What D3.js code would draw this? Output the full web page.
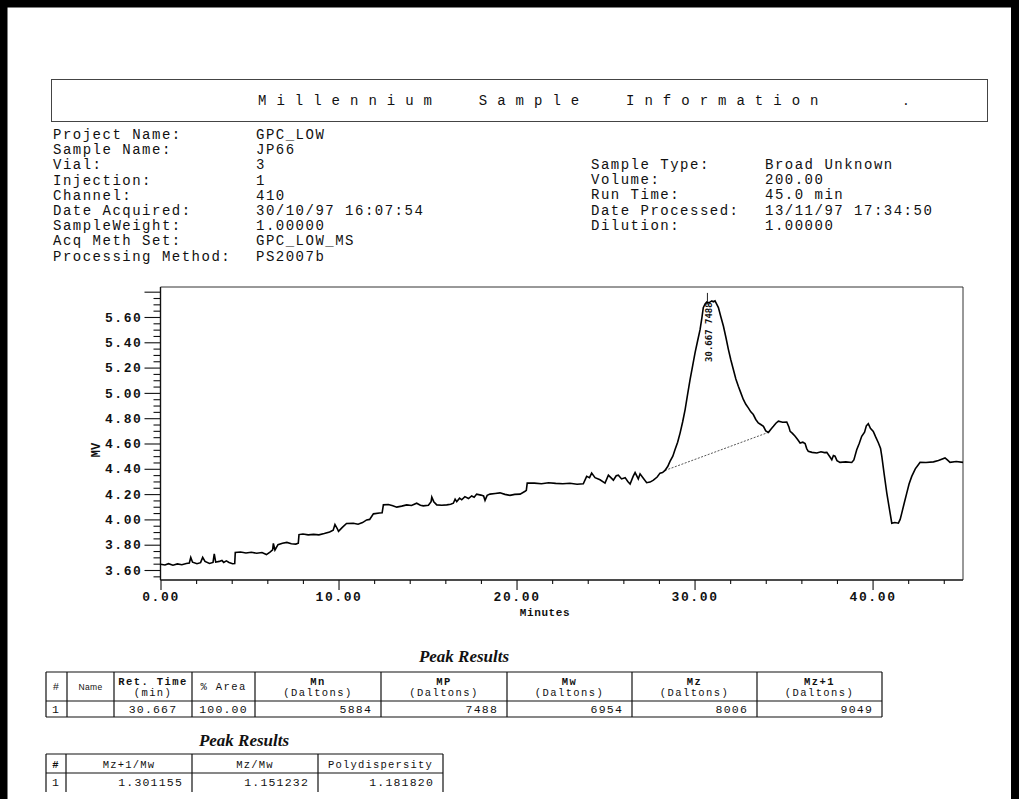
<!DOCTYPE html>
<html>
<head>
<meta charset="utf-8">
<script src="https://cdn.jsdelivr.net/npm/d3@7"></script>
<style>
  html, body { margin: 0; padding: 0; background: #fff; }
  svg { display: block; }
  text { fill: #111; }
</style>
</head>
<body>
<svg id="page" width="1019" height="799"></svg>
<script>
// ---- Sample information ----
const infoLeftLabels = ["Project Name:", "Sample Name:", "Vial:", "Injection:", "Channel:",
  "Date Acquired:", "SampleWeight:", "Acq Meth Set:", "Processing Method:"];
const infoLeftValues = ["GPC_LOW", "JP66", "3", "1", "410",
  "30/10/97 16:07:54", "1.00000", "GPC_LOW_MS", "PS2007b"];
const infoRightLabels = ["Sample Type:", "Volume:", "Run Time:", "Date Processed:", "Dilution:"];
const infoRightValues = ["Broad Unknown", "200.00", "45.0 min", "13/11/97 17:34:50", "1.00000"];

// ---- Chromatogram trace (minutes, MV) ----
const minutes = [
  0.00, 0.25, 0.45, 0.70, 0.95, 1.20, 1.45, 1.62, 1.70, 1.80, 2.05, 2.25, 2.37, 2.50, 2.75, 2.95,
  3.02, 3.10, 3.30, 3.45, 3.55, 3.70, 3.85, 4.05, 4.17, 4.20, 4.50, 4.80, 5.10, 5.40, 5.70, 5.95,
  6.15, 6.30, 6.34, 6.43, 6.60, 6.85, 7.10, 7.35, 7.60, 7.74, 7.78, 8.00, 8.30, 8.60, 8.90, 9.20,
  9.50, 9.70, 9.80, 9.92, 10.00, 10.20, 10.45, 10.83, 11.10, 11.35, 11.58, 11.75, 11.96, 12.30,
  12.45, 12.52, 12.80, 13.05, 13.27, 13.55, 13.83, 14.10, 14.39, 14.60, 14.76, 15.05, 15.20, 15.24,
  15.35, 15.52, 15.80, 16.08, 16.30, 16.45, 16.55, 16.64, 16.80, 16.92, 17.10, 17.30, 17.48, 17.62,
  17.76, 18.00, 18.15, 18.23, 18.35, 18.51, 18.80, 19.07, 19.35, 19.63, 19.90, 20.20, 20.48, 20.55,
  20.60, 21.00, 21.40, 21.80, 22.20, 22.60, 23.00, 23.40, 23.75, 23.94, 24.10, 24.22, 24.41, 24.69,
  24.97, 25.16, 25.30, 25.44, 25.60, 25.72, 25.90, 26.10, 26.25, 26.38, 26.55, 26.66, 26.84, 26.94,
  27.10, 27.31, 27.50, 27.69, 27.90, 28.06, 28.20, 28.34, 28.50, 28.62, 28.78, 28.90, 29.05, 29.19,
  29.33, 29.47, 29.60, 29.75, 29.90, 30.03, 30.17, 30.31, 30.42, 30.49, 30.60, 30.69, 30.80, 30.97,
  31.05, 31.15, 31.25, 31.34, 31.48, 31.62, 31.76, 31.90, 32.04, 32.18, 32.32, 32.46, 32.60, 32.74,
  32.88, 33.02, 33.16, 33.30, 33.44, 33.58, 33.72, 33.87, 34.00, 34.15, 34.30, 34.43, 34.57, 34.71,
  34.95, 35.18, 35.30, 35.37, 35.50, 35.65, 35.80, 35.93, 36.08, 36.21, 36.30, 36.39, 36.60, 36.87,
  37.10, 37.30, 37.43, 37.60, 37.71, 37.80, 37.89, 38.00, 38.17, 38.50, 38.83, 38.95, 39.11, 39.25,
  39.39, 39.55, 39.65, 39.76, 39.88, 40.04, 40.18, 40.33, 40.45, 40.52, 40.65, 40.80, 40.95, 41.08,
  41.25, 41.45, 41.55, 41.64, 41.78, 41.92, 42.05, 42.20, 42.40, 42.57, 42.67, 43.00, 43.42, 43.70,
  44.07, 44.20, 44.35, 44.70, 45.08
];
const mv = [
  3.645, 3.640, 3.650, 3.638, 3.648, 3.642, 3.652, 3.655, 3.700, 3.662, 3.650, 3.658, 3.700, 3.668, 3.652, 3.660,
  3.727, 3.662, 3.668, 3.675, 3.660, 3.672, 3.660, 3.650, 3.652, 3.738, 3.742, 3.735, 3.740, 3.733, 3.738, 3.722,
  3.742, 3.760, 3.810, 3.758, 3.800, 3.812, 3.818, 3.808, 3.805, 3.812, 3.880, 3.885, 3.878, 3.882, 3.878, 3.888,
  3.900, 3.915, 3.960, 3.930, 3.905, 3.935, 3.968, 3.970, 3.962, 3.975, 3.996, 4.000, 4.044, 4.050,
  4.052, 4.115, 4.118, 4.108, 4.097, 4.105, 4.115, 4.110, 4.128, 4.112, 4.107, 4.112, 4.140, 4.176,
  4.140, 4.115, 4.112, 4.115, 4.120, 4.128, 4.160, 4.140, 4.168, 4.155, 4.180, 4.165, 4.185, 4.175,
  4.200, 4.192, 4.185, 4.150, 4.190, 4.200, 4.205, 4.210, 4.198, 4.190, 4.198, 4.200, 4.222, 4.230,
  4.287, 4.287, 4.282, 4.290, 4.285, 4.282, 4.286, 4.278, 4.282, 4.340, 4.330, 4.366, 4.330, 4.313,
  4.287, 4.350, 4.330, 4.310, 4.345, 4.350, 4.320, 4.330, 4.300, 4.280, 4.340, 4.370, 4.320, 4.360,
  4.330, 4.290, 4.295, 4.310, 4.335, 4.366, 4.370, 4.387, 4.420, 4.459, 4.500, 4.550, 4.610, 4.684,
  4.770, 4.868, 4.980, 5.106, 5.220, 5.318, 5.410, 5.500, 5.600, 5.674, 5.705, 5.719, 5.712, 5.727,
  5.720, 5.727, 5.700, 5.674, 5.600, 5.529, 5.440, 5.344, 5.260, 5.185, 5.110, 5.053, 5.000, 4.948,
  4.910, 4.882, 4.850, 4.829, 4.790, 4.763, 4.750, 4.736, 4.700, 4.688, 4.715, 4.736, 4.760, 4.776,
  4.768, 4.770, 4.730, 4.696, 4.680, 4.657, 4.630, 4.604, 4.610, 4.600, 4.560, 4.538, 4.530, 4.525,
  4.535, 4.528, 4.530, 4.495, 4.472, 4.505, 4.500, 4.465, 4.451, 4.455, 4.450, 4.470, 4.551, 4.600,
  4.657, 4.690, 4.740, 4.757, 4.720, 4.696, 4.650, 4.604, 4.560, 4.498, 4.360, 4.208, 4.080, 3.970,
  3.975, 3.970, 4.000, 4.050, 4.130, 4.208, 4.280, 4.340, 4.400, 4.432, 4.451, 4.450, 4.455, 4.465,
  4.486, 4.470, 4.451, 4.458, 4.451
];

// Integration baseline under the peak
const baselineMinutes = [28.34, 34.15];
const baselineMV = [4.387, 4.688];

// Peak annotation
const peakRetTime = 30.667;
const peakMP = 7488;
const peakApexMV = 5.727;

// Axis ticks
const xMajorTicks = [0, 10, 20, 30, 40];
const xMinorTicks = [2, 4, 6, 8, 12, 14, 16, 18, 22, 24, 26, 28, 32, 34, 36, 38, 42, 44];
const yLabelTicks = [3.60, 3.80, 4.00, 4.20, 4.40, 4.60, 4.80, 5.00, 5.20, 5.40, 5.60];
const yMajorTicks = [3.60, 3.80, 4.00, 4.20, 4.40, 4.60, 4.80, 5.00, 5.20, 5.40, 5.60, 5.80];
const yMinorTicks = [3.55, 3.65, 3.70, 3.75, 3.85, 3.90, 3.95, 4.05, 4.10, 4.15, 4.25, 4.30, 4.35,
  4.45, 4.50, 4.55, 4.65, 4.70, 4.75, 4.85, 4.90, 4.95, 5.05, 5.10, 5.15, 5.25, 5.30, 5.35,
  5.45, 5.50, 5.55, 5.65, 5.70, 5.75];

// ---- Peak result tables ----
const resultHeaders = [["#"], ["Name"], ["Ret. Time", "(min)"], ["% Area"], ["Mn", "(Daltons)"],
  ["MP", "(Daltons)"], ["Mw", "(Daltons)"], ["Mz", "(Daltons)"], ["Mz+1", "(Daltons)"]];
const resultRow = ["1", "", "30.667", "100.00", "5884", "7488", "6954", "8006", "9049"];
const ratioHeaders = ["#", "Mz+1/Mw", "Mz/Mw", "Polydispersity"];
const ratioRow = ["1", "1.301155", "1.151232", "1.181820"];

// ================== drawing ==================
const MONO = "'Liberation Mono', 'DejaVu Sans Mono', monospace";
const svg = d3.select("#page");

// page frame
svg.append("rect").attr("x", 0).attr("y", 0).attr("width", 1019).attr("height", 799).attr("fill", "#fff");
svg.append("path").attr("d", "M3.5,799 V3.5 H1015 V799").attr("fill", "none")
  .attr("stroke", "#000").attr("stroke-width", 8);

// title box
svg.append("rect").attr("x", 51.5).attr("y", 79.5).attr("width", 936).attr("height", 42)
  .attr("fill", "none").attr("stroke", "#444").attr("stroke-width", 1);
svg.append("text").attr("x", 258).attr("y", 105)
  .style("font-family", MONO).style("font-size", "14px").style("letter-spacing", "10px")
  .attr("xml:space", "preserve")
  .text("Millennium  Sample  Information");
svg.append("text").attr("x", 902).attr("y", 105).style("font-family", MONO)
  .style("font-size", "13px").text(".");

// info blocks
function infoBlock(labels, values, xl, xv, y0) {
  const g = svg.append("g").style("font-family", MONO).style("font-size", "14px")
    .style("letter-spacing", "1.5px");
  labels.forEach((l, i) => {
    g.append("text").attr("x", xl).attr("y", y0 + i * 15.2).text(l);
    g.append("text").attr("x", xv).attr("y", y0 + i * 15.2).text(values[i]);
  });
}
infoBlock(infoLeftLabels, infoLeftValues, 53, 256, 139);
infoBlock(infoRightLabels, infoRightValues, 591, 765, 169);

// ---- chromatogram ----
const x = d3.scaleLinear().domain([0, 45.08]).range([160.5, 963]);
const y = d3.scaleLinear().domain([3.521, 5.837]).range([580, 287]);

const plot = svg.append("g");
// frame top and right
plot.append("path").attr("d", `M${x(0)},${y(5.837)} H${x(45.08)} V${y(3.521)}`)
  .attr("fill", "none").attr("stroke", "#333").attr("stroke-width", 1);

const axisFont = (sel) => sel.selectAll("text")
  .style("font-family", MONO).style("font-size", "13px").style("font-weight", "bold")
  .style("letter-spacing", "1.6px").attr("fill", "#111");

// y axis
const yMinor = plot.append("g").attr("transform", `translate(${x(0)},0)`)
  .call(d3.axisLeft(y).tickValues(yMinorTicks).tickSize(7).tickFormat(""));
const yMajor = plot.append("g").attr("transform", `translate(${x(0)},0)`)
  .call(d3.axisLeft(y).tickValues(yMajorTicks).tickSize(16).tickPadding(2)
    .tickFormat(d => yLabelTicks.some(v => Math.abs(v - d) < 1e-9) ? d3.format(".2f")(d) : ""));
axisFont(yMajor);
[yMinor, yMajor].forEach(g => {
  g.select(".domain").attr("stroke", "#111").attr("stroke-width", 1.2).attr("d", `M0,${y(5.837)}V${y(3.521)}`);
  g.selectAll(".tick line").attr("stroke", "#111").attr("stroke-width", 1.1);
});

// x axis
const xMinor = plot.append("g").attr("transform", `translate(0,${y(3.521)})`)
  .call(d3.axisBottom(x).tickValues(xMinorTicks).tickSize(4).tickFormat(""));
const xMajor = plot.append("g").attr("transform", `translate(0,${y(3.521)})`)
  .call(d3.axisBottom(x).tickValues(xMajorTicks).tickSize(10).tickPadding(2)
    .tickFormat(d3.format(".2f")));
axisFont(xMajor);
[xMinor, xMajor].forEach(g => {
  g.select(".domain").attr("stroke", "#111").attr("stroke-width", 1.2).attr("d", `M${x(0)},0H${x(45.08)}`);
  g.selectAll(".tick line").attr("stroke", "#111").attr("stroke-width", 1.1);
});

// axis titles
svg.append("text").attr("x", 545).attr("y", 616).attr("text-anchor", "middle")
  .style("font-family", MONO).style("font-size", "11px").style("font-weight", "bold")
  .style("letter-spacing", "0.6px").text("Minutes");
svg.append("text").attr("transform", "translate(100,450) rotate(-90)").attr("text-anchor", "middle")
  .style("font-family", MONO).style("font-size", "12px").style("font-weight", "bold")
  .text("MV");

// baseline
plot.append("line")
  .attr("x1", x(baselineMinutes[0])).attr("y1", y(baselineMV[0]))
  .attr("x2", x(baselineMinutes[1])).attr("y2", y(baselineMV[1]))
  .attr("stroke", "#444").attr("stroke-width", 0.9).attr("stroke-dasharray", "2,1.5");

// trace
const line = d3.line().x((d, i) => x(minutes[i])).y(d => y(d));
plot.append("path").datum(mv).attr("d", line)
  .attr("fill", "none").attr("stroke", "#000").attr("stroke-width", 1.6)
  .attr("stroke-linejoin", "miter");

// peak marker and label
plot.append("line").attr("x1", x(peakRetTime) + 1).attr("x2", x(peakRetTime) + 1)
  .attr("y1", y(peakApexMV) - 8).attr("y2", y(peakApexMV) + 1)
  .attr("stroke", "#222").attr("stroke-width", 1);
plot.append("text")
  .attr("transform", `translate(${x(peakRetTime) + 5.5},${y(peakApexMV) + 61}) rotate(-90)`)
  .style("font-family", "'DejaVu Sans Mono', monospace").style("font-size", "9px")
  .style("font-weight", "bold")
  .text(`${d3.format(".3f")(peakRetTime)} ${peakMP}`);

// ---- tables ----
function title(txt, cx, by) {
  svg.append("text").attr("x", cx).attr("y", by).attr("text-anchor", "middle")
    .style("font-family", "'Liberation Serif', 'Times New Roman', serif")
    .style("font-size", "17px").style("font-weight", "bold").style("font-style", "italic")
    .text(txt);
}
function grid(edges, rows, bottomOpen) {
  const g = svg.append("g").attr("stroke", "#111").attr("stroke-width", 1.2);
  const top = rows[0], bot = rows[rows.length - 1];
  edges.forEach(e => g.append("line").attr("x1", e).attr("x2", e).attr("y1", top).attr("y2", bot));
  rows.forEach((r, i) => {
    if (bottomOpen && i === rows.length - 1) return;
    g.append("line").attr("x1", edges[0]).attr("x2", edges[edges.length - 1]).attr("y1", r).attr("y2", r);
  });
}

title("Peak Results", 464, 662);
const edges1 = [46, 67, 114, 192, 255, 381, 507, 632, 757, 882];
const rows1 = [672, 701, 717];
grid(edges1, rows1, false);
resultHeaders.forEach((h, i) => {
  const cx = (edges1[i] + edges1[i + 1]) / 2;
  const small = (i === 1);
  h.forEach((line, j) => {
    const ty = h.length === 1 ? 690 : 685 + j * 11;
    svg.append("text").attr("x", cx).attr("y", ty).attr("text-anchor", "middle")
      .style("font-family", small ? "'Liberation Sans', sans-serif" : MONO)
      .style("font-size", small ? "8.5px" : "10.5px")
      .style("letter-spacing", small ? "0.3px" : "1.4px")
      .style("font-weight", (j === 0 && i > 1 && i !== 3) ? "bold" : "normal")
      .text(line);
  });
});
resultRow.forEach((v, i) => {
  const l = edges1[i], r = edges1[i + 1];
  let xa, anchor;
  if (i === 0) { xa = l + 6; anchor = "start"; }
  else if (i <= 3) { xa = (l + r) / 2; anchor = "middle"; }
  else { xa = r - 9; anchor = "end"; }
  svg.append("text").attr("x", xa).attr("y", 713).attr("text-anchor", anchor)
    .style("font-family", MONO).style("font-size", "11.5px").style("letter-spacing", "1.2px")
    .text(v);
});

title("Peak Results", 244, 746);
const edges2 = [46, 66, 192, 318, 443];
const rows2 = [754, 773, 792];
grid(edges2, rows2, true);
ratioHeaders.forEach((h, i) => {
  const cx = (edges2[i] + edges2[i + 1]) / 2;
  svg.append("text").attr("x", cx).attr("y", 768).attr("text-anchor", "middle")
    .style("font-family", MONO).style("font-size", "10.5px").style("letter-spacing", "1.2px")
    .style("font-weight", i === 0 ? "bold" : "normal")
    .text(h);
});
ratioRow.forEach((v, i) => {
  const l = edges2[i], r = edges2[i + 1];
  const xa = i === 0 ? l + 6 : r - 9;
  svg.append("text").attr("x", xa).attr("y", 786).attr("text-anchor", i === 0 ? "start" : "end")
    .style("font-family", MONO).style("font-size", "11.5px").style("letter-spacing", "1.2px")
    .text(v);
});
</script>
</body>
</html>
